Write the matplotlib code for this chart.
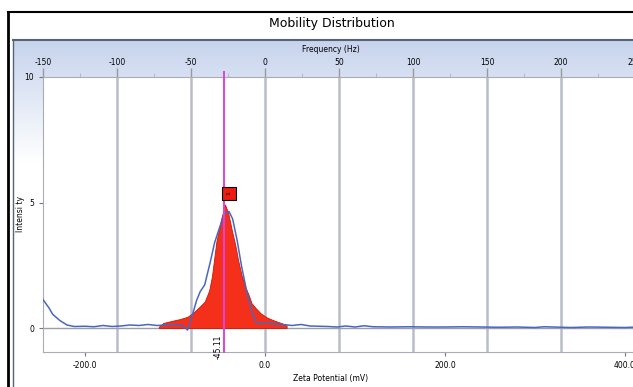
import numpy as np
import matplotlib.pyplot as plt
from matplotlib.lines import Line2D

# --- data ---
zeta_meas = [-247, -240, -236, -228, -220, -212, -200, -190, -180, -170, -160, -150, -140,
             -130, -120, -110, -100, -92, -86, -80, -76, -72, -67, -61, -56, -50,
             -45, -40, -36, -31, -26, -20, -14, -10, -5, 3, 10, 20, 30, 40, 50, 60,
             70, 80, 90, 100, 110, 120, 140, 160, 180, 200, 220, 240, 260, 280, 300,
             310, 320, 340, 360, 380, 400, 420]
int_meas = [1.15, 0.80, 0.55, 0.30, 0.12, 0.06, 0.07, 0.05, 0.10, 0.06, 0.08, 0.12, 0.10,
            0.14, 0.10, 0.12, 0.14, 0.10, -0.08, 0.60, 1.10, 1.45, 1.72, 2.60, 3.40, 4.05,
            4.55, 4.64, 4.35, 3.50, 2.45, 1.40, 0.60, 0.25, 0.18, 0.22, 0.16, 0.14, 0.10, 0.14, 0.08, 0.07,
            0.06, 0.04, 0.08, 0.04, 0.09, 0.05, 0.04, 0.05, 0.04, 0.04, 0.05, 0.04, 0.03, 0.04, 0.02,
            0.05, 0.04, 0.02, 0.04, 0.03, 0.02, 0.05]

zeta_fit = [-118, -113, -104, -94, -86, -80, -74, -67, -62, -59, -54, -49, -44.5,
            -41, -37, -33, -30, -26, -22, -18, -15, -10, -5, 2, 10, 18, 24]
int_fit = [0.05, 0.20, 0.28, 0.36, 0.45, 0.60, 0.80, 1.05, 1.50, 2.05, 3.45, 4.30, 4.92,
           4.60, 3.92, 3.30, 2.72, 2.10, 1.65, 1.30, 0.99, 0.78, 0.59, 0.42, 0.30, 0.20, 0.10]

peak_zeta = -45.11
peak_height = 4.92
zeta_ticks = [-200.0, 0.0, 200.0, 400.0]
freq_ticks = [-150, -100, -50, 0, 50, 100, 150, 200, 250]
hz_per_mv = 0.608

plt.rcParams['font.family'] = ['DejaVu Sans']

W, H = 633, 387
fig = plt.figure(figsize=(W / 100, H / 100), dpi=100)

# panel background gradient
bg = fig.add_axes([13 / W, 0, 1, (H - 40) / H], zorder=-2)
grad = np.ones((200, 2, 3))
t = np.clip(np.linspace(0, 1, 200) / 0.35, 0, 1)[:, None]
top_c = np.array([0.78, 0.83, 0.93])
grad[:] = (top_c * (1 - t) + np.array([1, 1, 1]) * t)[:, None, :]
bg.imshow(grad, aspect='auto', extent=[0, 1, 0, 1])
bg.axis('off')

# frame lines
fig.add_artist(Line2D([8 / W, 8 / W], [0, 1 - 12 / H], color='black', lw=2, transform=fig.transFigure))
fig.add_artist(Line2D([8 / W, 1], [1 - 12 / H, 1 - 12 / H], color='black', lw=1.5, transform=fig.transFigure))
fig.add_artist(Line2D([13 / W, 1], [1 - 40 / H, 1 - 40 / H], color='#556472', lw=1.5, transform=fig.transFigure))
fig.add_artist(Line2D([13 / W, 13 / W], [0, 1 - 40 / H], color='#556472', lw=1, transform=fig.transFigure))

fig.text(332 / W, 1 - 23 / H, 'Mobility Distribution', ha='center', va='center', fontsize=9)
fig.text(331 / W, 1 - 50 / H, 'Frequency (Hz)', ha='center', va='center', fontsize=5.5)
fig.text(331 / W, 1 - 378 / H, 'Zeta Potential (mV)', ha='center', va='center', fontsize=5.5)

# axes placed so that 0 mV sits at x=265 px with 0.9 px per mV
left_px, right_px = 42.5, 643
ax = fig.add_axes([left_px / W, 1 - 352 / H, (right_px - left_px) / W, (352 - 77) / H])
ax.set_facecolor('white')
ax.set_xlim(-(265 - left_px) / 0.9, (right_px - 265) / 0.9)
ax.set_ylim(-0.956, 10)

# grid lines at frequency ticks
for f in freq_ticks[1:]:
    ax.axvline(f / hz_per_mv, color='#b9bdc8', lw=1.8, zorder=1)
ax.axhline(0, color='#9a9ea8', lw=1, zorder=1)

ax.fill_between(zeta_fit, 0, int_fit, color='#f4301a', edgecolor='#c81a0a', lw=0.6, zorder=2)
ax.plot(zeta_meas, int_meas, color='#4a66c0', lw=1.1, zorder=3)
ax.axvline(peak_zeta, color='#e040e0', lw=1.4, zorder=4, clip_on=False, ymax=1.02)

ax.annotate('1', xy=(peak_zeta, peak_height), xytext=(3.5, 8), textcoords='offset points',
            ha='center', va='center', rotation=90, fontsize=4.5,
            bbox=dict(boxstyle='square,pad=0.7', fc='#ee1c10', ec='black', lw=0.8), zorder=5)
ax.text(peak_zeta - 2, -0.25, '%.2f' % peak_zeta, rotation=90, ha='right', va='top',
        fontsize=5.5, zorder=5)

for s in ['top', 'left', 'bottom']:
    ax.spines[s].set_color('#a8acb4')
ax.spines['right'].set_visible(False)

ax.set_yticks([0, 5, 10])
ax.set_yticklabels(['0', '5', '10'])
ax.set_xticks(zeta_ticks)
ax.set_xticklabels(['%.1f' % v for v in zeta_ticks])
ax.tick_params(axis='both', labelsize=5.5, colors='#777777', labelcolor='black', length=3, width=0.8)
ax.tick_params(axis='y', pad=3)
ax.set_ylabel('Intensi ty', fontsize=5.5, labelpad=0)

sec = ax.secondary_xaxis('top', functions=(lambda z: z * hz_per_mv, lambda f: f / hz_per_mv))
sec.set_xticks(freq_ticks)
sec.set_xticklabels([str(v) for v in freq_ticks])
sec.set_xticks([v + 25 for v in freq_ticks], minor=True)
sec.tick_params(axis='x', labelsize=5.5, colors='#999999', labelcolor='black', length=6.5, width=1, pad=1)
sec.tick_params(axis='x', which='minor', length=3, width=0.8, colors='#bbbbbb')
sec.spines['top'].set_visible(False)

plt.savefig('out.png', dpi=100)
